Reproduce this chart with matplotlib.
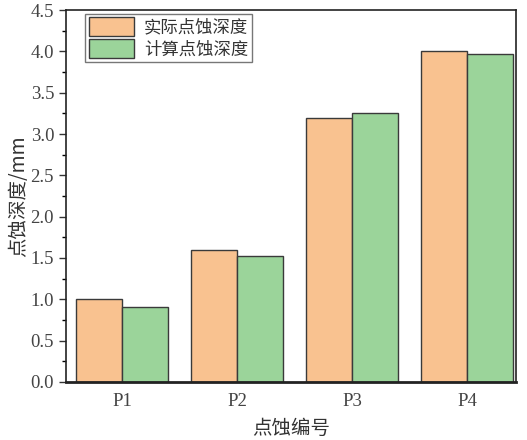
import numpy as np
import matplotlib.pyplot as plt
from matplotlib.ticker import MultipleLocator

plt.rcParams['font.family'] = ['Liberation Serif', 'Noto Sans CJK SC']

points = ['P1', 'P2', 'P3', 'P4']
actual = [1.0, 1.6, 3.2, 4.0]
calc = [0.91, 1.53, 3.25, 3.97]

x = np.arange(len(points))
w = 0.4

fig, ax = plt.subplots(figsize=(5.27, 4.4), dpi=100)
fig.subplots_adjust(left=0.125, right=0.98, top=0.977, bottom=0.132)

ax.bar(x - w / 2, actual, w, color='#F9C290', edgecolor='#3a3a3a', linewidth=1.0, label='实际点蚀深度')
ax.bar(x + w / 2, calc, w, color='#9BD49A', edgecolor='#3a3a3a', linewidth=1.0, label='计算点蚀深度')

ax.set_xlim(-0.49, 3.43)
ax.set_ylim(0, 4.5)
ax.set_xticks(x)
ax.set_xticklabels(points)
ax.yaxis.set_major_locator(MultipleLocator(0.5))
ax.yaxis.set_minor_locator(MultipleLocator(0.25))
ax.yaxis.set_major_formatter(plt.FuncFormatter(lambda v, p: f'{v:.1f}'))
ax.tick_params(axis='both', labelsize=13.5, colors='#333333', labelcolor='#444444')
ax.tick_params(axis='y', which='major', length=5, width=1.0)
ax.tick_params(axis='y', which='minor', length=3, width=1.0)
ax.tick_params(axis='x', length=0, pad=8)
for s in ax.spines.values():
    s.set_linewidth(1.2)
    s.set_color('#222222')
ax.spines['bottom'].set_linewidth(2)

ax.set_ylabel('点蚀深度/mm', fontsize=14, family=['Noto Sans CJK SC'], color='#333333', labelpad=1)
ax.set_xlabel('点蚀编号', fontsize=14, family=['Noto Sans CJK SC'], color='#333333', labelpad=6)

leg = ax.legend(loc='upper left', bbox_to_anchor=(0.035, 1.0),
                prop={'family': ['Noto Sans CJK SC'], 'size': 12.5},
                frameon=True, fancybox=False, edgecolor='#555555',
                handlelength=2.6, handleheight=1.3, borderpad=0.2, labelspacing=0.15,
                handletextpad=0.6, borderaxespad=0.2)
for t in leg.get_texts():
    t.set_color('#333333')

fig.savefig('out.png', dpi=100)
